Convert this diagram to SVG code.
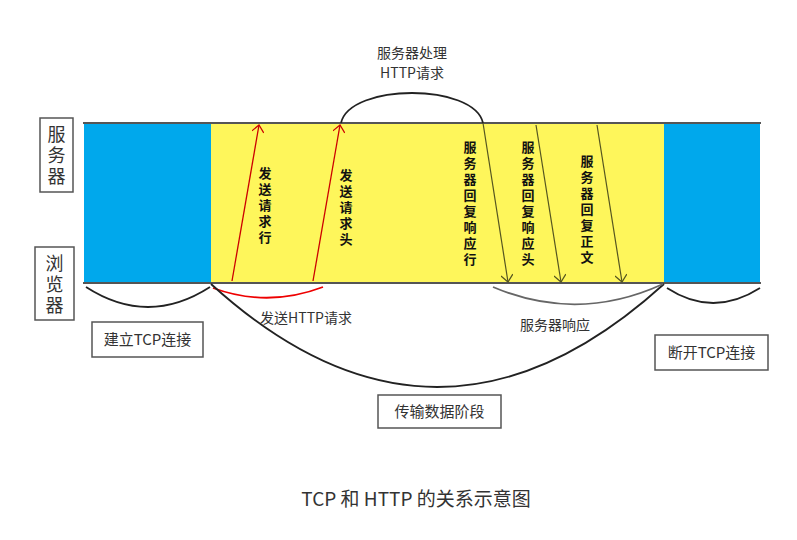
<svg xmlns="http://www.w3.org/2000/svg" width="797" height="540" viewBox="0 0 797 540">
<defs>
<style>
.lbl{font-family:"Noto Sans CJK SC","Liberation Sans",sans-serif;fill:#333;}
.hand{font-family:"Noto Sans CJK SC",sans-serif;font-size:13px;font-weight:bold;fill:#111;text-anchor:middle;}
.box{fill:#fff;stroke:#555;stroke-width:1.5;}
.arc{fill:none;stroke:#222;stroke-width:1.8;}
</style>
<marker id="ar" viewBox="0 0 12 12" refX="11" refY="6" markerWidth="12" markerHeight="12" orient="auto" markerUnits="userSpaceOnUse">
<path d="M4,0 L11,6 L4,12" fill="none" stroke="#c00" stroke-width="1.2"/>
</marker>
<marker id="ad" viewBox="0 0 12 12" refX="11" refY="6" markerWidth="12" markerHeight="12" orient="auto" markerUnits="userSpaceOnUse">
<path d="M4,0 L11,6 L4,12" fill="none" stroke="#555520" stroke-width="1.2"/>
</marker>
</defs>
<rect width="797" height="540" fill="#fff"/>
<g id="bands">
<rect x="84" y="123" width="127" height="160" fill="#00a8ec"/>
<rect x="211" y="123" width="453" height="160" fill="#fef65b"/>
<rect x="664" y="123" width="96" height="160" fill="#00a8ec"/>
<line x1="83" y1="123" x2="761" y2="123" stroke="#555" stroke-width="2"/>
<line x1="83" y1="283" x2="761" y2="283" stroke="#555" stroke-width="2"/>
</g>
<g id="server-label">
<rect class="box" x="40" y="118" width="33" height="74"/>
<text class="lbl" font-size="18" text-anchor="middle"><tspan x="56.5" y="141">服</tspan><tspan x="56.5" y="162">务</tspan><tspan x="56.5" y="183">器</tspan></text>
</g>
<g id="browser-label">
<rect class="box" x="35" y="247" width="39" height="73"/>
<text class="lbl" font-size="18" text-anchor="middle"><tspan x="54.5" y="270">浏</tspan><tspan x="54.5" y="291">览</tspan><tspan x="54.5" y="312">器</tspan></text>
</g>
<g id="connectors">
<line x1="232" y1="281" x2="259" y2="125" stroke="#c00" stroke-width="1.3" marker-end="url(#ar)"/>
<line x1="313" y1="281" x2="340" y2="125" stroke="#c00" stroke-width="1.3" marker-end="url(#ar)"/>
<line x1="483" y1="123" x2="508" y2="282" stroke="#555520" stroke-width="1.2" marker-end="url(#ad)"/>
<line x1="536" y1="125" x2="561" y2="282" stroke="#555520" stroke-width="1.2" marker-end="url(#ad)"/>
<line x1="597" y1="125" x2="622" y2="282" stroke="#555520" stroke-width="1.2" marker-end="url(#ad)"/>
<path class="arc" d="M341,123 C350,83 474,83 483,123"/>
<path class="arc" d="M86,287 Q148,327 210,287"/>
<path d="M213,288 Q268,308 323,287" fill="none" stroke="#e00" stroke-width="1.8"/>
<path class="arc" d="M211,284 Q437,490 664,284"/>
<path d="M493,287 Q578,323 663,284" fill="none" stroke="#666" stroke-width="1.8"/>
<path class="arc" d="M667,288 Q713,318 760,288"/>
</g>
<g id="req-line-text">
<text class="hand"><tspan x="265" y="178">发</tspan><tspan x="265" y="194">送</tspan><tspan x="265" y="210">请</tspan><tspan x="265" y="226">求</tspan><tspan x="265" y="242">行</tspan></text>
</g>
<g id="req-head-text">
<text class="hand"><tspan x="346" y="180">发</tspan><tspan x="346" y="196">送</tspan><tspan x="346" y="212">请</tspan><tspan x="346" y="228">求</tspan><tspan x="346" y="244">头</tspan></text>
</g>
<g id="resp-line-text">
<text class="hand"><tspan x="470" y="152">服</tspan><tspan x="470" y="168">务</tspan><tspan x="470" y="184">器</tspan><tspan x="470" y="200">回</tspan><tspan x="470" y="216">复</tspan><tspan x="470" y="232">响</tspan><tspan x="470" y="248">应</tspan><tspan x="470" y="264">行</tspan></text>
</g>
<g id="resp-head-text">
<text class="hand"><tspan x="528" y="152">服</tspan><tspan x="528" y="168">务</tspan><tspan x="528" y="184">器</tspan><tspan x="528" y="200">回</tspan><tspan x="528" y="216">复</tspan><tspan x="528" y="232">响</tspan><tspan x="528" y="248">应</tspan><tspan x="528" y="264">头</tspan></text>
</g>
<g id="resp-body-text">
<text class="hand"><tspan x="587" y="166">服</tspan><tspan x="587" y="182">务</tspan><tspan x="587" y="198">器</tspan><tspan x="587" y="214">回</tspan><tspan x="587" y="230">复</tspan><tspan x="587" y="246">正</tspan><tspan x="587" y="262">文</tspan></text>
</g>
<g id="process-label">
<text class="lbl" font-size="14" text-anchor="middle" fill="#444"><tspan x="412" y="58">服务器处理</tspan><tspan x="412" y="78">HTTP请求</tspan></text>
</g>
<g id="send-label">
<text class="lbl" x="306" y="323" font-size="14" text-anchor="middle">发送HTTP请求</text>
</g>
<g id="resp-label">
<text class="lbl" x="555" y="330" font-size="14" text-anchor="middle" fill="#555">服务器响应</text>
</g>
<g id="connect-box">
<rect class="box" x="92" y="322" width="111" height="35"/>
<text class="lbl" x="147.5" y="345" font-size="15" text-anchor="middle">建立TCP连接</text>
</g>
<g id="transfer-box">
<rect class="box" x="378" y="395" width="123" height="33"/>
<text class="lbl" x="439.5" y="417" font-size="15" text-anchor="middle">传输数据阶段</text>
</g>
<g id="disconnect-box">
<rect class="box" x="655" y="335" width="113" height="35"/>
<text class="lbl" x="711.5" y="358" font-size="15" text-anchor="middle">断开TCP连接</text>
</g>
<g id="caption">
<text class="lbl" x="416" y="506" font-size="19" text-anchor="middle" fill="#333">TCP 和 HTTP 的关系示意图</text>
</g>
</svg>
